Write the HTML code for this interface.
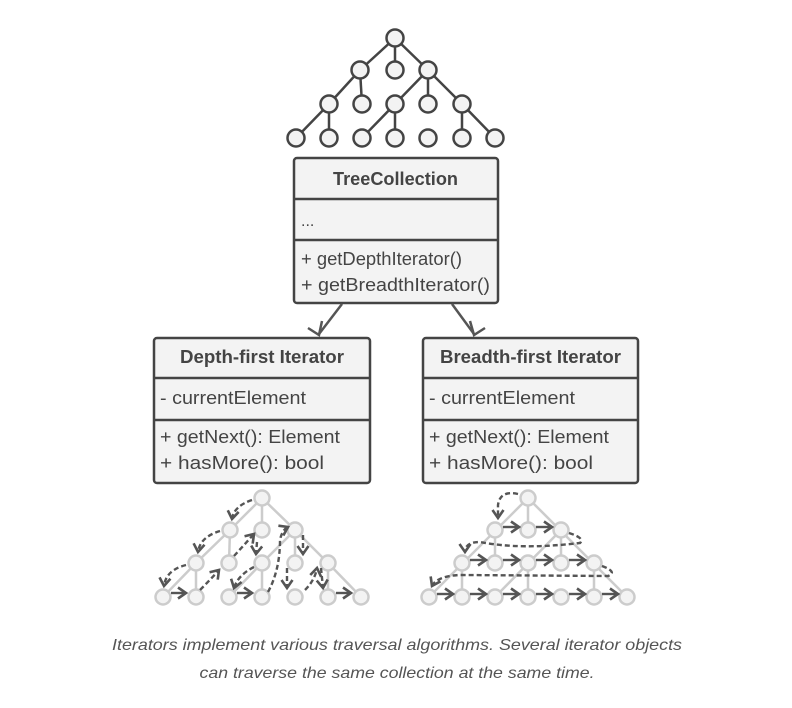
<!DOCTYPE html>
<html><head><meta charset="utf-8"><style>
html,body{margin:0;padding:0;background:#fff;}
svg{display:block;}
text{font-family:"Liberation Sans",sans-serif;fill:#444;}
</style></head><body>
<svg width="792" height="708" viewBox="0 0 792 708" xmlns="http://www.w3.org/2000/svg">
<defs>
<marker id="ah" markerWidth="14" markerHeight="14" refX="10" refY="7" orient="auto" markerUnits="userSpaceOnUse">
<path d="M2,1.5 L10,7 L2,12.5" fill="none" stroke="#555" stroke-width="2.6"/>
</marker>
</defs>

<!-- top tree -->
<g stroke="#444" stroke-width="2.5">
<line x1="395" y1="38" x2="360" y2="70"/><line x1="395" y1="38" x2="395" y2="70"/><line x1="395" y1="38" x2="428" y2="70"/>
<line x1="360" y1="70" x2="329" y2="104"/><line x1="360" y1="70" x2="362" y2="104"/>
<line x1="428" y1="70" x2="395" y2="104"/><line x1="428" y1="70" x2="428" y2="104"/><line x1="428" y1="70" x2="462" y2="104"/>
<line x1="329" y1="104" x2="296" y2="138"/><line x1="329" y1="104" x2="329" y2="138"/>
<line x1="395" y1="104" x2="362" y2="138"/><line x1="395" y1="104" x2="395" y2="138"/>
<line x1="462" y1="104" x2="462" y2="138"/><line x1="462" y1="104" x2="495" y2="138"/>
</g>
<g fill="#f3f3f3" stroke="#444" stroke-width="2.5">
<circle cx="395" cy="38" r="8.5"/>
<circle cx="360" cy="70" r="8.5"/><circle cx="395" cy="70" r="8.5"/><circle cx="428" cy="70" r="8.5"/>
<circle cx="329" cy="104" r="8.5"/><circle cx="362" cy="104" r="8.5"/><circle cx="395" cy="104" r="8.5"/><circle cx="428" cy="104" r="8.5"/><circle cx="462" cy="104" r="8.5"/>
<circle cx="296" cy="138" r="8.5"/><circle cx="329" cy="138" r="8.5"/><circle cx="362" cy="138" r="8.5"/><circle cx="395" cy="138" r="8.5"/><circle cx="428" cy="138" r="8.5"/><circle cx="462" cy="138" r="8.5"/><circle cx="495" cy="138" r="8.5"/>
</g>

<!-- TreeCollection -->
<g stroke="#444" stroke-width="2.5" fill="#f3f3f3">
<rect x="294" y="158" width="204" height="145" rx="3"/>
<line x1="294" y1="199" x2="498" y2="199"/><line x1="294" y1="240" x2="498" y2="240"/>
</g>
<text x="333" y="185" font-size="18" font-weight="bold" textLength="125" lengthAdjust="spacingAndGlyphs">TreeCollection</text>
<text x="301" y="226" font-size="16">...</text>
<text x="301" y="265" font-size="18" textLength="161" lengthAdjust="spacingAndGlyphs">+ getDepthIterator()</text>
<text x="301" y="291" font-size="18" textLength="189" lengthAdjust="spacingAndGlyphs">+ getBreadthIterator()</text>

<!-- arrows -->
<g stroke="#555" stroke-width="2.5" fill="none">
<line x1="342" y1="304" x2="319" y2="334"/>
<path d="M308,328 L319,335 L322,321"/>
<line x1="452" y1="304" x2="474" y2="334"/>
<path d="M470,321 L474,335 L485,328"/>
</g>

<!-- Iterator boxes -->
<g stroke="#444" stroke-width="2.5" fill="#f3f3f3">
<rect x="154" y="338" width="216" height="145" rx="3"/>
<line x1="154" y1="378" x2="370" y2="378"/><line x1="154" y1="420" x2="370" y2="420"/>
<rect x="423" y="338" width="215" height="145" rx="3"/>
<line x1="423" y1="378" x2="638" y2="378"/><line x1="423" y1="420" x2="638" y2="420"/>
</g>
<text x="180" y="363" font-size="18" font-weight="bold" textLength="164" lengthAdjust="spacingAndGlyphs">Depth-first Iterator</text>
<text x="160" y="404" font-size="18" textLength="146" lengthAdjust="spacingAndGlyphs">- currentElement</text>
<text x="160" y="443" font-size="18" textLength="180" lengthAdjust="spacingAndGlyphs">+ getNext(): Element</text>
<text x="160" y="469" font-size="18" textLength="164" lengthAdjust="spacingAndGlyphs">+ hasMore(): bool</text>
<text x="440" y="363" font-size="18" font-weight="bold" textLength="181" lengthAdjust="spacingAndGlyphs">Breadth-first Iterator</text>
<text x="429" y="404" font-size="18" textLength="146" lengthAdjust="spacingAndGlyphs">- currentElement</text>
<text x="429" y="443" font-size="18" textLength="180" lengthAdjust="spacingAndGlyphs">+ getNext(): Element</text>
<text x="429" y="469" font-size="18" textLength="164" lengthAdjust="spacingAndGlyphs">+ hasMore(): bool</text>

<!-- left tree -->
<g stroke="#ccc" stroke-width="2.5">
<line x1="262" y1="498" x2="230" y2="530"/><line x1="262" y1="498" x2="262" y2="530"/><line x1="262" y1="498" x2="295" y2="530"/>
<line x1="230" y1="530" x2="196" y2="563"/><line x1="230" y1="530" x2="229" y2="563"/>
<line x1="295" y1="530" x2="262" y2="563"/><line x1="295" y1="530" x2="295" y2="563"/><line x1="295" y1="530" x2="328" y2="563"/>
<line x1="196" y1="563" x2="163" y2="597"/><line x1="196" y1="563" x2="196" y2="597"/>
<line x1="262" y1="563" x2="229" y2="597"/><line x1="262" y1="563" x2="262" y2="597"/>
<line x1="328" y1="563" x2="328" y2="597"/><line x1="328" y1="563" x2="361" y2="597"/>
</g>
<g fill="#f3f3f3" stroke="#ccc" stroke-width="2.5">
<circle cx="262" cy="498" r="7.5"/>
<circle cx="230" cy="530" r="7.5"/><circle cx="262" cy="530" r="7.5"/><circle cx="295" cy="530" r="7.5"/>
<circle cx="196" cy="563" r="7.5"/><circle cx="229" cy="563" r="7.5"/><circle cx="262" cy="563" r="7.5"/><circle cx="295" cy="563" r="7.5"/><circle cx="328" cy="563" r="7.5"/>
<circle cx="163" cy="597" r="7.5"/><circle cx="196" cy="597" r="7.5"/><circle cx="229" cy="597" r="7.5"/><circle cx="262" cy="597" r="7.5"/><circle cx="295" cy="597" r="7.5"/><circle cx="328" cy="597" r="7.5"/><circle cx="361" cy="597" r="7.5"/>
</g>
<g stroke="#555" stroke-width="2.4" fill="none" stroke-dasharray="5,3" marker-end="url(#ah)">
<path d="M252,500 Q234,506 232,519"/>
<path d="M220,531 Q200,537 198,552"/>
<path d="M186,565 Q166,570 164,586"/>
<path d="M171,593 L186,593" stroke-dasharray="none"/>
<path d="M200,590 Q210,580 219,570"/>
<path d="M234,556 Q244,545 254,534"/>
<path d="M257,542 L256,554"/>
<path d="M254,567 Q238,575 234,588"/>
<path d="M237,593 L252,593" stroke-dasharray="none"/>
<path d="M268,592 Q280,570 280,540 Q282,530 288,527"/>
<path d="M303,535 L303,554"/>
<path d="M287,568 L287,588"/>
<path d="M305,590 Q315,580 317,568"/>
<path d="M321,568 L323,588"/>
<path d="M336,593 L351,593" stroke-dasharray="none"/>
</g>

<!-- right tree -->
<g stroke="#ccc" stroke-width="2.5">
<line x1="528" y1="498" x2="429" y2="597"/><line x1="528" y1="498" x2="528" y2="530"/><line x1="528" y1="498" x2="627" y2="597"/>
<line x1="495" y1="530" x2="495" y2="563"/><line x1="561" y1="530" x2="561" y2="563"/>
<line x1="561" y1="530" x2="495" y2="597"/>
<line x1="462" y1="563" x2="462" y2="597"/><line x1="528" y1="563" x2="528" y2="597"/><line x1="594" y1="563" x2="594" y2="597"/>
</g>
<g fill="#f3f3f3" stroke="#ccc" stroke-width="2.5">
<circle cx="528" cy="498" r="7.5"/>
<circle cx="495" cy="530" r="7.5"/><circle cx="528" cy="530" r="7.5"/><circle cx="561" cy="530" r="7.5"/>
<circle cx="462" cy="563" r="7.5"/><circle cx="495" cy="563" r="7.5"/><circle cx="528" cy="563" r="7.5"/><circle cx="561" cy="563" r="7.5"/><circle cx="594" cy="563" r="7.5"/>
<circle cx="429" cy="597" r="7.5"/><circle cx="462" cy="597" r="7.5"/><circle cx="495" cy="597" r="7.5"/><circle cx="528" cy="597" r="7.5"/><circle cx="561" cy="597" r="7.5"/><circle cx="594" cy="597" r="7.5"/><circle cx="627" cy="597" r="7.5"/>
</g>
<g stroke="#555" stroke-width="2.4" fill="none" marker-end="url(#ah)">
<path d="M503,527 L519,527"/><path d="M536,527 L552,527"/>
<path d="M470,560 L486,560"/><path d="M503,560 L519,560"/><path d="M536,560 L552,560"/><path d="M569,560 L585,560"/>
<path d="M437,594 L453,594"/><path d="M470,594 L486,594"/><path d="M503,594 L519,594"/><path d="M536,594 L552,594"/><path d="M569,594 L585,594"/><path d="M602,594 L618,594"/>
</g>
<g stroke="#555" stroke-width="2.4" fill="none" stroke-dasharray="5,3" marker-end="url(#ah)">
<path d="M518,494 Q500,490 498,505 L498,518"/>
<path d="M569,533 Q585,538 580,543 Q520,550 480,542 Q465,542 465,552"/>
<path d="M602,566 Q618,572 608,576 L460,575 Q437,576 432,586"/>
</g>

<text x="397" y="650" font-size="16" font-style="italic" text-anchor="middle" style="fill:#555" textLength="570" lengthAdjust="spacingAndGlyphs">Iterators implement various traversal algorithms. Several iterator objects</text>
<text x="397" y="678" font-size="16" font-style="italic" text-anchor="middle" style="fill:#555" textLength="395" lengthAdjust="spacingAndGlyphs">can traverse the same collection at the same time.</text>
</svg>
</body></html>
